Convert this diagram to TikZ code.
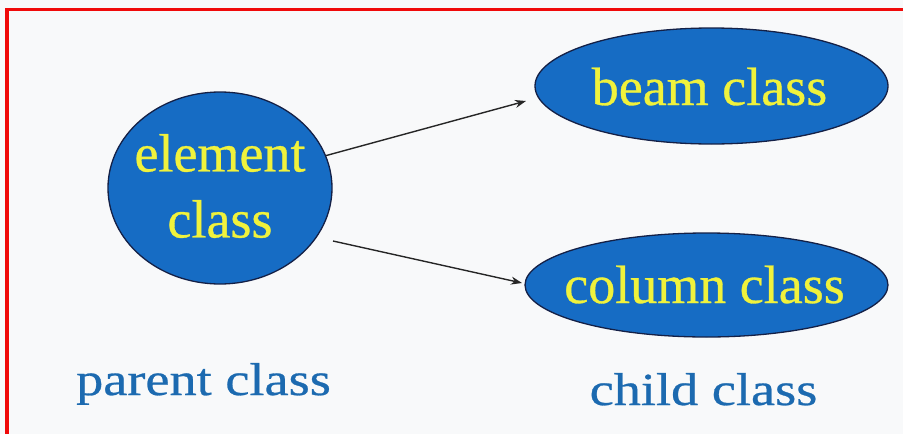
\documentclass[tikz,border=0pt]{standalone}
\usepackage{fontspec}
\setmainfont{Liberation Serif}
\newfontfamily\inkfont[FakeBold=0.6]{Liberation Serif}
\newfontfamily\widefont[FakeStretch=1.18,FakeBold=0.6]{Liberation Serif}
\usetikzlibrary{shapes.geometric,arrows.meta}
\definecolor{bg}{RGB}{248,249,250}
\definecolor{blobfill}{RGB}{22,108,196}
\definecolor{blobline}{RGB}{20,32,70}
\definecolor{yell}{RGB}{240,242,60}
\definecolor{captblue}{RGB}{28,106,176}
\definecolor{frame}{RGB}{240,10,10}
\tikzset{
  blob/.style={ellipse, draw=blobline, fill=blobfill, line width=1.3pt, inner sep=0pt},
  inner/.style={text=yell, font=\inkfont\fontsize{54}{66}\selectfont, inner sep=0pt, align=center},
  capt/.style={text=captblue, font=\widefont\fontsize{46}{56}\selectfont, inner sep=0pt, anchor=base},
  arr/.style={-{Stealth[length=11pt,width=8pt]}, line width=1.4pt, draw=black!85}
}
\begin{document}
\begin{tikzpicture}[x=1pt,y=-1pt]
\useasboundingbox (0,0) rectangle (903,434);
\fill[bg] (0,0) rectangle (903,434);
\draw[frame, line width=3.2pt] (7,434) -- (7,9.3) -- (903,9.3);
% ellipses
\node[blob, minimum width=224pt, minimum height=192pt] (el) at (220,188) {};
\node[blob, minimum width=353pt, minimum height=116pt] (beam) at (711.5,86) {};
\node[blob, minimum width=363pt, minimum height=104pt] (col) at (706.5,285) {};
% texts
\node[inner] (elt) at (220,186) {element\\class};
\node[inner, anchor=base] (beamt) at (709.5,105) {beam class};
\node[inner, anchor=base] (colt) at (704.5,303) {column class};
\node[capt] (par) at (203.5,395) {parent class};
\node[capt] (chi) at (703.5,405) {child class};
% connectors
\coordinate (b1) at (526,101);
\coordinate (s2) at (333,241);
\coordinate (c2) at (522,283);
\draw[arr] (el.17) -- (b1);
\draw[arr] (s2) -- (c2);
\end{tikzpicture}
\end{document}
